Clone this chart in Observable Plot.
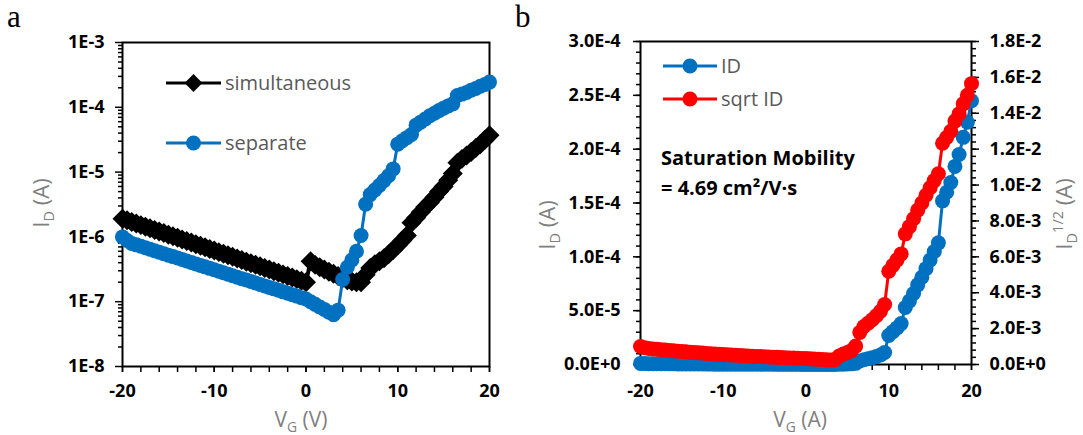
<!DOCTYPE html>
<html><head><meta charset="utf-8">
<script src="https://cdn.jsdelivr.net/npm/d3@7"></script>
<script src="https://cdn.jsdelivr.net/npm/@observablehq/plot@0.6"></script>
<style>
body{margin:0;background:#fff;}
#wrap{position:relative;width:1083px;height:435px;overflow:hidden;background:#fff;}
#wrap svg{position:absolute;top:0;}
</style></head><body><div id="wrap"></div>
<script>
// ---------------- data ----------------
const vg = [-20,-19.5,-19,-18.5,-18,-17.5,-17,-16.5,-16,-15.5,-15,-14.5,-14,-13.5,-13,-12.5,-12,-11.5,-11,-10.5,
  -10,-9.5,-9,-8.5,-8,-7.5,-7,-6.5,-6,-5.5,-5,-4.5,-4,-3.5,-3,-2.5,-2,-1.5,-1,-0.5,0,
  0.5,1,1.5,2,2.5,3,3.5,4,4.5,5,5.5,6,6.5,7,7.5,8,8.5,9,9.5,10,10.5,11,11.5,12,12.5,13,13.5,14,14.5,15,
  15.5,16,16.5,17,17.5,18,18.5,19,19.5,20];
const idSimultaneous = [1.91e-6,1.80e-6,1.70e-6,1.61e-6,1.52e-6,1.44e-6,1.36e-6,1.28e-6,1.21e-6,1.15e-6,
  1.08e-6,1.02e-6,9.7e-7,9.15e-7,8.65e-7,8.17e-7,7.73e-7,7.30e-7,6.90e-7,6.52e-7,
  6.17e-7,5.82e-7,5.51e-7,5.20e-7,4.92e-7,4.65e-7,4.40e-7,4.15e-7,3.93e-7,3.71e-7,
  3.51e-7,3.31e-7,3.13e-7,2.96e-7,2.80e-7,2.64e-7,2.50e-7,2.36e-7,2.23e-7,2.11e-7,
  2.0e-7,
  4.2e-7,3.7e-7,3.4e-7,3.15e-7,2.9e-7,2.7e-7,2.5e-7,2.3e-7,2.15e-7,2.05e-7,
  2.0e-7,2.0e-7,2.6e-7,3.3e-7,3.8e-7,4.2e-7,4.7e-7,5.4e-7,6.3e-7,7.4e-7,
  8.8e-7,1.05e-6,1.65e-6,1.98e-6,2.4e-6,2.9e-6,3.4e-6,4.1e-6,5.0e-6,6.0e-6,
  7.5e-6,9.5e-6,1.4e-5,1.6e-5,1.8e-5,2.05e-5,2.35e-5,2.7e-5,3.15e-5,3.7e-5];
const idSeparate = [1.00e-6,8.8e-7,7.94e-7,7.54e-7,7.16e-7,6.80e-7,6.45e-7,6.12e-7,5.81e-7,5.51e-7,
  5.23e-7,4.97e-7,4.72e-7,4.48e-7,4.25e-7,4.03e-7,3.83e-7,3.63e-7,3.45e-7,3.27e-7,
  3.11e-7,2.95e-7,2.80e-7,2.66e-7,2.52e-7,2.39e-7,2.27e-7,2.16e-7,2.05e-7,1.94e-7,
  1.84e-7,1.75e-7,1.66e-7,1.58e-7,1.50e-7,1.42e-7,1.35e-7,1.28e-7,1.22e-7,1.15e-7,
  1.10e-7,
  1.00e-7,9.1e-8,8.3e-8,7.6e-8,6.9e-8,6.3e-8,7.4e-8,2.2e-7,3.4e-7,4.4e-7,
  6.0e-7,1.05e-6,3.2e-6,4.5e-6,5.3e-6,6.2e-6,7.4e-6,8.8e-6,1.12e-5,2.7e-5,
  3.05e-5,3.4e-5,3.8e-5,5.3e-5,5.9e-5,6.6e-5,7.4e-5,8.1e-5,8.9e-5,9.7e-5,
  1.05e-4,1.13e-4,1.52e-4,1.60e-4,1.69e-4,1.84e-4,1.95e-4,2.11e-4,2.25e-4,2.45e-4];
// panel b: ID is the "separate" transfer curve, sqrt ID its square root
const idB = idSeparate;
const sqrtIdB = idB.map(Math.sqrt);

const seriesA = ["simultaneous", "separate"];
const seriesB = ["ID", "sqrt ID"];
const logTicks = [1e-8, 1e-7, 1e-6, 1e-5, 1e-4, 1e-3];
const idTicks = [0, 5e-5, 1e-4, 1.5e-4, 2e-4, 2.5e-4, 3e-4];
const sqrtTicks = [0, 2e-3, 4e-3, 6e-3, 8e-3, 1e-2, 1.2e-2, 1.4e-2, 1.6e-2, 1.8e-2];
const vgTicks = [-20, -10, 0, 10, 20];
const annotation = ["Saturation Mobility", "= 4.69 cm\u00B2/V\u00B7s"];

// ---------------- styling ----------------
const BLUE = "#0070C0", RED = "#FF0000", BLACK = "#000000";
const FONT = '"Open Sans", sans-serif';
const TICKFS = 18;
const H = 435;
const R_DOT = 7.5, R_DIA = 9;

const rowsSim = vg.map((v, i) => ({vg: v, id: idSimultaneous[i]}));
const rowsSep = vg.map((v, i) => ({vg: v, id: idSeparate[i]}));
const rowsB = vg.map((v, i) => ({vg: v, id: idB[i], sq: sqrtIdB[i]}));

const logMinor = [];
for (let e = -8; e <= -4; e++) for (let m = 2; m <= 9; m++) logMinor.push(m * Math.pow(10, e));
const vgMinor = d3.range(-20, 21, 2);
const idMinor = d3.range(0, 31).map(k => k * 1e-5);
const sqrtMinor = d3.range(0, 46).map(k => k * 4e-4);

const fmtLog = d => d.toExponential(0).toUpperCase();
const fmtE1 = d => d.toExponential(1).toUpperCase();
const fmtInt = d => String(d);
const blank = () => "";

const wrap = document.getElementById("wrap");
function place(svg, left) { svg.style.left = left + "px"; svg.style.top = "0px"; wrap.appendChild(svg); }

// ---------------- panel a ----------------
const plotA = Plot.plot({
  width: 540, height: H,
  marginLeft: 122, marginRight: 51, marginTop: 42, marginBottom: 69,
  style: {fontFamily: FONT, color: "black", background: "white", overflow: "visible"},
  x: {domain: [-20, 20], label: null},
  y: {type: "log", domain: [1e-8, 1e-3], label: null},
  marks: [
    Plot.axisY({ticks: logMinor, tickSize: 4, tickFormat: blank, strokeWidth: 1.5, label: null}),
    Plot.axisY({ticks: logTicks, tickSize: 7, tickPadding: 11, tickFormat: fmtLog, fontSize: TICKFS, fontWeight: "bold", strokeWidth: 1.5, label: null}),
    Plot.axisX({ticks: vgMinor, tickSize: 6, tickFormat: blank, strokeWidth: 1.5, label: null}),
    Plot.axisX({ticks: vgTicks, tickSize: 6, tickPadding: 12, tickFormat: fmtInt, fontSize: TICKFS, fontWeight: "bold", strokeWidth: 1.5, label: null}),
    Plot.frame({stroke: BLACK, strokeWidth: 2}),
    Plot.line(rowsSim, {x: "vg", y: "id", stroke: BLACK, strokeWidth: 4}),
    Plot.dot(rowsSim, {x: "vg", y: "id", symbol: "diamond2", r: R_DIA, fill: BLACK}),
    Plot.line(rowsSep, {x: "vg", y: "id", stroke: BLUE, strokeWidth: 3}),
    Plot.dot(rowsSep, {x: "vg", y: "id", r: R_DOT, fill: BLUE})
  ]
});
place(plotA, 0);

// ---------------- panel b ----------------
const bMargins = {width: 543, height: H, marginLeft: 100, marginRight: 112, marginTop: 41, marginBottom: 71};
// right (secondary) axis, drawn underneath
const plotBR = Plot.plot({
  ...bMargins,
  style: {fontFamily: FONT, color: "black", background: "white", overflow: "visible"},
  x: {domain: [-20, 20], axis: null},
  y: {domain: [0, 0.018], label: null},
  marks: [
    Plot.axisY({anchor: "right", ticks: sqrtMinor, tickSize: 4, tickFormat: blank, strokeWidth: 1.5, label: null}),
    Plot.axisY({anchor: "right", ticks: sqrtTicks, tickSize: 7, tickPadding: 11, tickFormat: fmtE1, fontSize: TICKFS, fontWeight: "bold", strokeWidth: 1.5, label: null})
  ]
});
place(plotBR, 540);
// primary axis + ID series
const plotB = Plot.plot({
  ...bMargins,
  style: {fontFamily: FONT, color: "black", background: "transparent", overflow: "visible"},
  x: {domain: [-20, 20], label: null},
  y: {domain: [0, 3e-4], label: null},
  marks: [
    Plot.axisY({ticks: idMinor, tickSize: 4, tickFormat: blank, strokeWidth: 1.5, label: null}),
    Plot.axisY({ticks: idTicks, tickSize: 7, tickPadding: 13, tickFormat: fmtE1, fontSize: TICKFS, fontWeight: "bold", strokeWidth: 1.5, label: null}),
    Plot.axisX({ticks: vgMinor, tickSize: 6, tickFormat: blank, strokeWidth: 1.5, label: null}),
    Plot.axisX({ticks: vgTicks, tickSize: 6, tickPadding: 14, tickFormat: fmtInt, fontSize: TICKFS, fontWeight: "bold", strokeWidth: 1.5, label: null}),
    Plot.frame({stroke: BLACK, strokeWidth: 2}),
    Plot.line(rowsB, {x: "vg", y: "id", stroke: BLUE, strokeWidth: 3}),
    Plot.dot(rowsB, {x: "vg", y: "id", r: R_DOT, fill: BLUE})
  ]
});
place(plotB, 540);
// sqrt ID series on the secondary scale, drawn on top
const plotBRed = Plot.plot({
  ...bMargins,
  style: {fontFamily: FONT, color: "black", background: "transparent", overflow: "visible"},
  x: {domain: [-20, 20], axis: null},
  y: {domain: [0, 0.018], axis: null},
  marks: [
    Plot.line(rowsB, {x: "vg", y: "sq", stroke: RED, strokeWidth: 3}),
    Plot.dot(rowsB, {x: "vg", y: "sq", r: R_DOT, fill: RED})
  ]
});
place(plotBRed, 540);

// ---------------- titles, legends, annotation ----------------
const ov = d3.create("svg").attr("width", 1083).attr("height", H)
  .style("left", "0px").style("top", "0px").style("background", "transparent")
  .style("font-family", FONT);

function rich(x, y, rot, size, fill, parts, anchor = "middle", weight = "normal") {
  const t = ov.append("text")
    .attr("transform", `translate(${x},${y}) rotate(${rot})`)
    .attr("text-anchor", anchor).attr("font-size", size).attr("fill", fill).attr("font-weight", weight);
  let off = 0;
  for (const [s, kind] of parts) {
    const target = kind === "sub" ? 0.22 * size : kind === "sup" ? -0.42 * size : 0;
    const ts = t.append("tspan").text(s).attr("dy", target - off);
    if (kind) ts.attr("font-size", 0.66 * size);
    off = target;
  }
  return t;
}
const TITLE = "#7F7F7F", LEG = "#595959";
rich(49, 203, -90, 22, TITLE, [["I"], ["D", "sub"], [" (A)"]]);
rich(301, 427, 0, 21, TITLE, [["V"], ["G", "sub"], [" (V)"]]);
rich(555, 225, -90, 22, TITLE, [["I"], ["D", "sub"], [" (A)"]]);
rich(800, 427, 0, 21, TITLE, [["V"], ["G", "sub"], [" (A)"]]);
rich(1072, 214, -90, 22, TITLE, [["I"], ["D", "sub"], ["1/2", "sup"], [" (A)"]]);

ov.append("text").attr("x", 7).attr("y", 27).attr("font-family", '"Liberation Serif", serif').attr("font-size", 31).text("a");
ov.append("text").attr("x", 515).attr("y", 27).attr("font-family", '"Liberation Serif", serif').attr("font-size", 31).text("b");

function legendItem(x1, x2, y, color, symbol, symSize, label) {
  ov.append("line").attr("x1", x1).attr("x2", x2).attr("y1", y).attr("y2", y).attr("stroke", color).attr("stroke-width", 3);
  ov.append("path").attr("d", d3.symbol(symbol, symSize)()).attr("transform", `translate(${(x1 + x2) / 2},${y})`).attr("fill", color);
  ov.append("text").attr("x", x2 + 4).attr("y", y).attr("dy", "0.35em").attr("font-size", 20).attr("fill", LEG).text(label);
}
legendItem(166, 221, 83, BLACK, d3.symbolDiamond2, Math.PI * 8 * 8, seriesA[0]);
legendItem(166, 221, 143, BLUE, d3.symbolCircle, Math.PI * R_DOT * R_DOT, seriesA[1]);
legendItem(663, 717, 66, BLUE, d3.symbolCircle, Math.PI * R_DOT * R_DOT, seriesB[0]);
legendItem(663, 717, 99, RED, d3.symbolCircle, Math.PI * R_DOT * R_DOT, seriesB[1]);

ov.append("text").attr("x", 661).attr("y", 165).attr("font-size", 20).attr("font-weight", "bold").attr("fill", BLACK).text(annotation[0]);
ov.append("text").attr("x", 661).attr("y", 195).attr("font-size", 20).attr("font-weight", "bold").attr("fill", BLACK).text(annotation[1]);

wrap.appendChild(ov.node());
</script></body></html>
